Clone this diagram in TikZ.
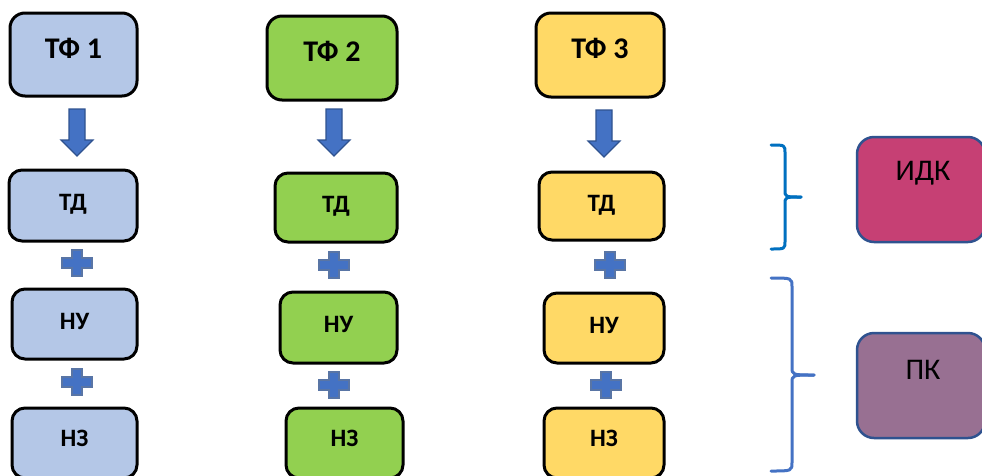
\documentclass[tikz,border=0pt]{standalone}
\usepackage{fontspec}
\setmainfont{Carlito}
\definecolor{bluefill}{HTML}{B4C7E7}
\definecolor{greenfill}{HTML}{92D050}
\definecolor{yellowfill}{HTML}{FFD966}
\definecolor{idkfill}{HTML}{C64074}
\definecolor{pkfill}{HTML}{987092}
\definecolor{arrowfill}{HTML}{4472C4}
\definecolor{arrowdraw}{HTML}{2F528F}
\definecolor{braceone}{HTML}{0070C0}
\definecolor{bracetwo}{HTML}{4472C4}
\tikzset{
  box/.style={draw=black, line width=3pt, rounded corners=13pt, inner sep=0pt,
              text height=16pt, text depth=6pt,
              font=\fontsize{25}{30}\selectfont\bfseries},
  lowbox/.style={box, text depth=10pt},
  tfbox/.style={box, rounded corners=15pt},
  tflbl/.style={font=\fontsize{30}{36}\selectfont\bfseries, inner sep=0pt},
  sidebox/.style={draw=arrowdraw, line width=2.5pt, rounded corners=17pt, inner sep=0pt},
  sidelbl/.style={font=\fontsize{30}{36}\selectfont, inner sep=0pt},
  arrowstyle/.style={fill=arrowfill, draw=arrowdraw, line width=1.2pt, line join=miter},
  plusstyle/.style={fill=arrowfill, draw=arrowdraw!80!white, line width=1.2pt},
  bracestyle/.style={line width=3pt, line cap=round, line join=round},
  downarrow/.pic={\draw[arrowstyle] (-8,0) -- (8,0) -- (8,31) -- (16,31) -- (0,47) -- (-16,31) -- (-8,31) -- cycle;},
  plussign/.pic={\draw[plusstyle] (-5,-13) -- (5,-13) -- (5,-5) -- (15,-5) -- (15,5) -- (5,5) -- (5,13) -- (-5,13) -- (-5,5) -- (-15,5) -- (-15,-5) -- (-5,-5) -- cycle;}
}
\begin{document}
\begin{tikzpicture}[x=1pt, y=-1pt]
\fill[white] (0,0) rectangle (982,475);
\useasboundingbox (0,0) rectangle (982,475);
\clip (0,0) rectangle (982,475);

% column 1
\node[tfbox, fill=bluefill, minimum width=127pt, minimum height=83pt,
      label={[tflbl, name=tf1l, yshift=6.5pt]center:ТФ 1}] (tf1) at (73.5,54.5) {};
\node[box, fill=bluefill, minimum width=128pt, minimum height=71pt] (td1) at (73,205.5) {ТД};
\node[box, fill=bluefill, minimum width=125pt, minimum height=70pt] (nu1) at (74.5,324) {НУ};
\node[lowbox, fill=bluefill, minimum width=125pt, minimum height=70pt] (nz1) at (74.5,443) {НЗ};
\pic (a1) at (77,109) {downarrow};
\pic (p11) at (77,263) {plussign};
\pic (p12) at (77,382) {plussign};

% column 2
\node[tfbox, fill=greenfill, minimum width=130pt, minimum height=84pt,
      label={[tflbl, name=tf2l, yshift=6.5pt]center:ТФ 2}] (tf2) at (332,58) {};
\node[box, fill=greenfill, minimum width=122pt, minimum height=69pt] (td2) at (336,207.5) {ТД};
\node[box, fill=greenfill, minimum width=117pt, minimum height=71pt] (nu2) at (338.5,327.5) {НУ};
\node[lowbox, fill=greenfill, minimum width=117pt, minimum height=70pt] (nz2) at (344.5,443) {НЗ};
\pic (a2) at (334,109) {downarrow};
\pic (p21) at (334,265) {plussign};
\pic (p22) at (334,385) {plussign};

% column 3
\node[tfbox, fill=yellowfill, minimum width=128pt, minimum height=84pt,
      label={[tflbl, name=tf3l, yshift=7pt]center:ТФ 3}] (tf3) at (600,55) {};
\node[box, fill=yellowfill, minimum width=125pt, minimum height=68pt] (td3) at (601.5,206) {ТД};
\node[box, fill=yellowfill, minimum width=120pt, minimum height=70pt] (nu3) at (604,328) {НУ};
\node[lowbox, fill=yellowfill, minimum width=120pt, minimum height=70pt] (nz3) at (604,443) {НЗ};
\pic (a3) at (604,110) {downarrow};
\pic (p31) at (610,265) {plussign};
\pic (p32) at (606,385) {plussign};

% braces
\draw[bracestyle, braceone] (771,145) .. controls (785,145) .. (785,153) -- (785,190)
   .. controls (785,197) .. (801,197);
\draw[bracestyle, braceone] (801,197) .. controls (785,197) .. (785,204) -- (785,241)
   .. controls (785,249) .. (771,249);
\draw[bracestyle, bracetwo] (771,278) .. controls (792,278) .. (792,287) -- (792,367)
   .. controls (792,375) .. (814,375);
\draw[bracestyle, bracetwo] (814,375) .. controls (792,375) .. (792,383) -- (792,462)
   .. controls (792,471) .. (771,471);

% side boxes
\node[sidebox, fill=idkfill, minimum width=128pt, minimum height=105pt,
      label={[sidelbl, name=idkl, yshift=16pt, xshift=2pt]center:ИДК}] (idk) at (921,189.5) {};
\node[sidebox, fill=pkfill, minimum width=128pt, minimum height=105pt,
      label={[sidelbl, name=pkl, yshift=15.5pt, xshift=2pt]center:ПК}] (pk) at (921,385.5) {};
\end{tikzpicture}
\end{document}
